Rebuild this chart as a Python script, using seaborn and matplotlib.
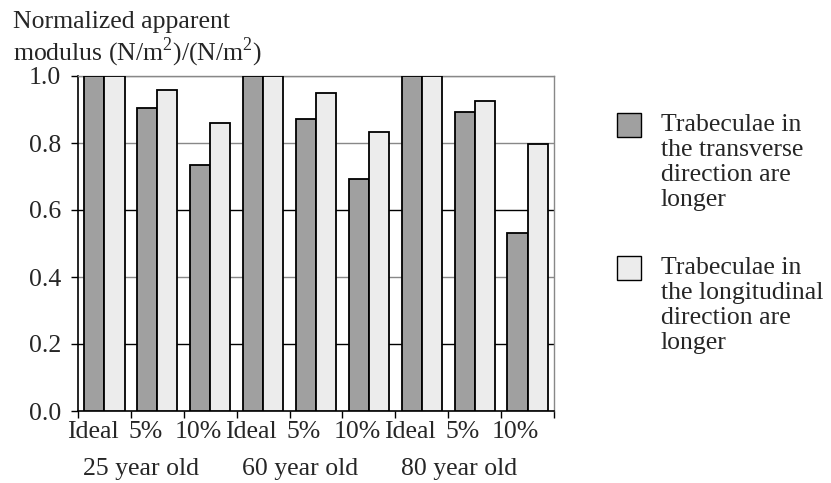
import matplotlib
matplotlib.use("Agg")
import matplotlib.pyplot as plt
import matplotlib.transforms as mtransforms
from matplotlib.patches import Rectangle
import seaborn as sns
import pandas as pd

# ---- data ----
groups = ["25 year old", "60 year old", "80 year old"]
conditions = ["Ideal", "5%", "10%"]
series = ["Trabeculae in\nthe transverse\ndirection are\nlonger",
          "Trabeculae in\nthe longitudinal\ndirection are\nlonger"]
transverse = [1.00, 0.904, 0.735, 1.00, 0.871, 0.693, 1.00, 0.893, 0.530]
longitudinal = [1.00, 0.959, 0.861, 1.00, 0.948, 0.832, 1.00, 0.926, 0.798]
y_ticks = [0.0, 0.2, 0.4, 0.6, 0.8, 1.0]
y_label = "Normalized apparent\nmodulus (N/m$^{\\mathrm{2}}$)/(N/m$^{\\mathrm{2}}$)"

keys = [f"{g}|{c}" for g in groups for c in conditions]
tick_labels = [c for g in groups for c in conditions]
rows = []
for k, a, b in zip(keys, transverse, longitudinal):
    rows.append({"key": k, "series": series[0], "value": a})
    rows.append({"key": k, "series": series[1], "value": b})
df = pd.DataFrame(rows)

dark = "#a0a0a0"
light = "#ececec"

sns.set_theme(style="white")
plt.rcParams["font.family"] = ["Liberation Serif", "DejaVu Serif"]
plt.rcParams["mathtext.fontset"] = "custom"
plt.rcParams["mathtext.rm"] = "Liberation Serif"
FS = 18.5

fig = plt.figure(figsize=(8.31, 4.83), dpi=100)
W, H = 831, 483
ax = fig.add_axes([78 / W, 1 - 411 / H, (554 - 78) / W, (411 - 76) / H])

sns.barplot(data=df, x="key", y="value", hue="series", order=keys,
            hue_order=series, palette=[dark, light], width=0.76,
            edgecolor="black", linewidth=1.3, errorbar=None, legend=False,
            ax=ax, zorder=3)

ax.set_ylim(0, 1.0)
ax.set_xlim(-0.5, len(keys) - 0.5)
ax.set_yticks(y_ticks)
ax.set_yticklabels([f"{v:.1f}" for v in y_ticks], fontsize=FS)
ax.set_xlabel("")
ax.set_ylabel("")

# gridlines
grid_colors = ["black", "black", "#888888", "black", "#888888", "#888888"]
for yv, col in zip(y_ticks[1:], grid_colors[1:]):
    ax.axhline(yv, color=col, linewidth=1.0, zorder=1)

# x ticks: labels at category centers (shifted), marks at boundaries
ax.set_xticks(range(len(keys)))
ax.set_xticklabels(tick_labels, fontsize=FS)
ax.tick_params(axis="x", which="major", length=0, pad=7)
ax.set_xticks([i - 0.5 for i in range(len(keys) + 1)], minor=True)
ax.tick_params(axis="x", which="minor", length=5, width=1, color="black",
               direction="out", bottom=True)
ax.tick_params(axis="y", length=5, width=1, color="black", direction="out",
               left=True, pad=7)
shift = mtransforms.ScaledTranslation(-12 / 100, 0, fig.dpi_scale_trans)
for lbl in ax.get_xticklabels():
    lbl.set_transform(lbl.get_transform() + shift)

# group labels
blend = mtransforms.blended_transform_factory(ax.transData, ax.transAxes)
for gi, g in enumerate(groups):
    ax.text(gi * 3 + 1 - 0.3, -0.14, g, transform=blend, ha="center",
            va="top", fontsize=FS)

for s in ["left", "bottom"]:
    ax.spines[s].set_color("black")
    ax.spines[s].set_linewidth(1.2)
for s in ["top", "right"]:
    ax.spines[s].set_color("#888888")
    ax.spines[s].set_linewidth(1.0)

# y label at top-left
fig.text(13 / W, 1 - 11 / H, y_label, ha="left", va="top", fontsize=FS,
         linespacing=1.12)

# legend (manual)
for (top, col, lab) in [(113, dark, series[0]), (256, light, series[1])]:
    fig.add_artist(Rectangle((617 / W, 1 - (top + 24) / H), 24 / W, 24 / H,
                             transform=fig.transFigure, facecolor=col,
                             edgecolor="black", linewidth=1.0))
    fig.text(661 / W, 1 - (top + 1) / H, lab, ha="left", va="top",
             fontsize=FS, linespacing=1.18)

fig.savefig("out.png", dpi=100)
